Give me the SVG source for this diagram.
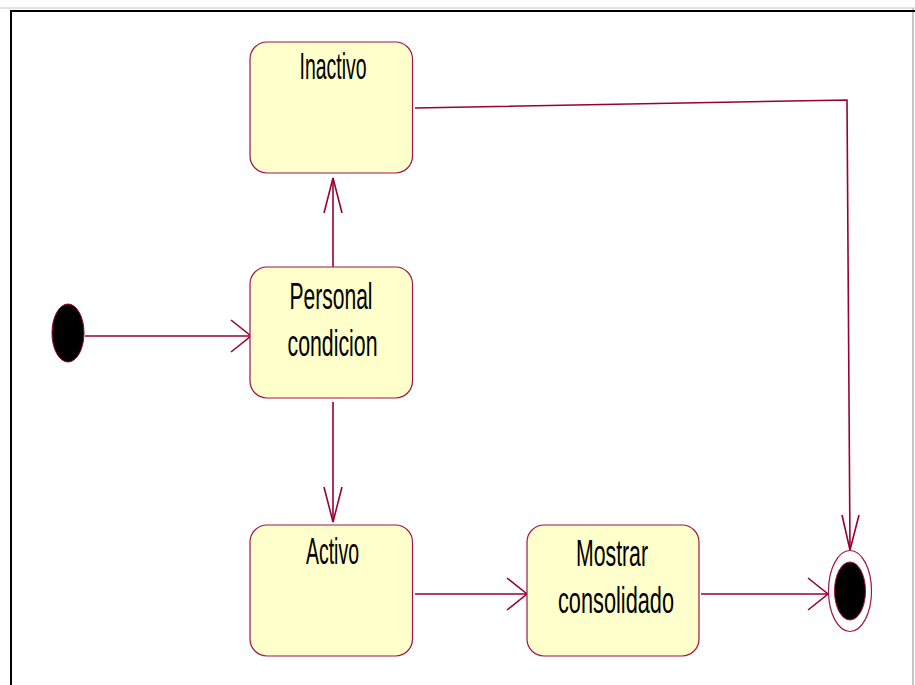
<svg xmlns="http://www.w3.org/2000/svg" width="915" height="685" viewBox="0 0 915 685">
  <style>
    .state { fill: #ffffcc; stroke: #a0144a; stroke-width: 1.2; }
    .label { font-family: "Liberation Sans", Arial, sans-serif; font-size: 37px; fill: #000; text-anchor: middle; }
    .edge { fill: none; stroke: #990033; stroke-width: 1.6; }
    .head { fill: none; stroke: #990033; stroke-width: 1.6; }
  </style>
  <rect x="0" y="0" width="915" height="685" fill="#ffffff"/>
  <!-- frame -->
  <line x1="0" y1="8" x2="915" y2="8" stroke="#c8c8c8" stroke-width="1"/>
  <line x1="913" y1="8" x2="913" y2="685" stroke="#b4b4b4" stroke-width="1.5"/>
  <line x1="10" y1="11" x2="915" y2="11" stroke="#000" stroke-width="2"/>
  <line x1="11" y1="10" x2="11" y2="685" stroke="#000" stroke-width="2"/>

  <g id="connectors">
    <!-- start -> Personal condicion -->
    <line class="edge" x1="85" y1="336" x2="251" y2="336"/>
    <polyline class="head" points="231,320 251,336 231,352"/>
    <!-- Personal condicion -> Inactivo -->
    <line class="edge" x1="333" y1="267" x2="333" y2="178"/>
    <polyline class="head" points="324,213 333,178 342,213"/>
    <!-- Personal condicion -> Activo -->
    <line class="edge" x1="333" y1="402" x2="333" y2="522"/>
    <polyline class="head" points="324,487 333,522 342,487"/>
    <!-- Activo -> Mostrar consolidado -->
    <line class="edge" x1="415" y1="594" x2="527" y2="594"/>
    <polyline class="head" points="507,578 527,594 507,610"/>
    <!-- Mostrar consolidado -> end -->
    <line class="edge" x1="701" y1="594" x2="828" y2="594"/>
    <polyline class="head" points="808,578 828,594 808,610"/>
    <!-- Inactivo -> end -->
    <polyline class="edge" points="415,108 847,100 850,550"/>
    <polyline class="head" points="842,515 850,550 859,515"/>
  </g>

  <g id="start">
    <ellipse cx="68" cy="333" rx="16" ry="29" fill="#000" stroke="#990033" stroke-width="1"/>
  </g>

  <g id="end">
    <ellipse cx="850" cy="591" rx="21.5" ry="40.5" fill="#fff" stroke="#a0144a" stroke-width="1.2"/>
    <ellipse cx="850" cy="591" rx="15.5" ry="29" fill="#000" stroke="#a0144a" stroke-width="1"/>
  </g>

  <g id="inactivo">
    <rect class="state" x="250" y="42" width="162.5" height="131" rx="17" ry="17"/>
    <text class="label" x="333" y="79" textLength="67" lengthAdjust="spacingAndGlyphs">Inactivo</text>
  </g>

  <g id="personal-condicion">
    <rect class="state" x="250" y="267" width="162.5" height="131" rx="17" ry="17"/>
    <text class="label" x="331" y="309" textLength="83" lengthAdjust="spacingAndGlyphs">Personal</text>
    <text class="label" x="332.5" y="356" textLength="90" lengthAdjust="spacingAndGlyphs">condicion</text>
  </g>

  <g id="activo">
    <rect class="state" x="250" y="525" width="162.5" height="131" rx="17" ry="17"/>
    <text class="label" x="332.5" y="564" textLength="53" lengthAdjust="spacingAndGlyphs">Activo</text>
  </g>

  <g id="mostrar-consolidado">
    <rect class="state" x="527" y="525" width="172" height="131" rx="17" ry="17"/>
    <text class="label" x="612" y="566" textLength="72" lengthAdjust="spacingAndGlyphs">Mostrar</text>
    <text class="label" x="616" y="613" textLength="116" lengthAdjust="spacingAndGlyphs">consolidado</text>
  </g>
</svg>
